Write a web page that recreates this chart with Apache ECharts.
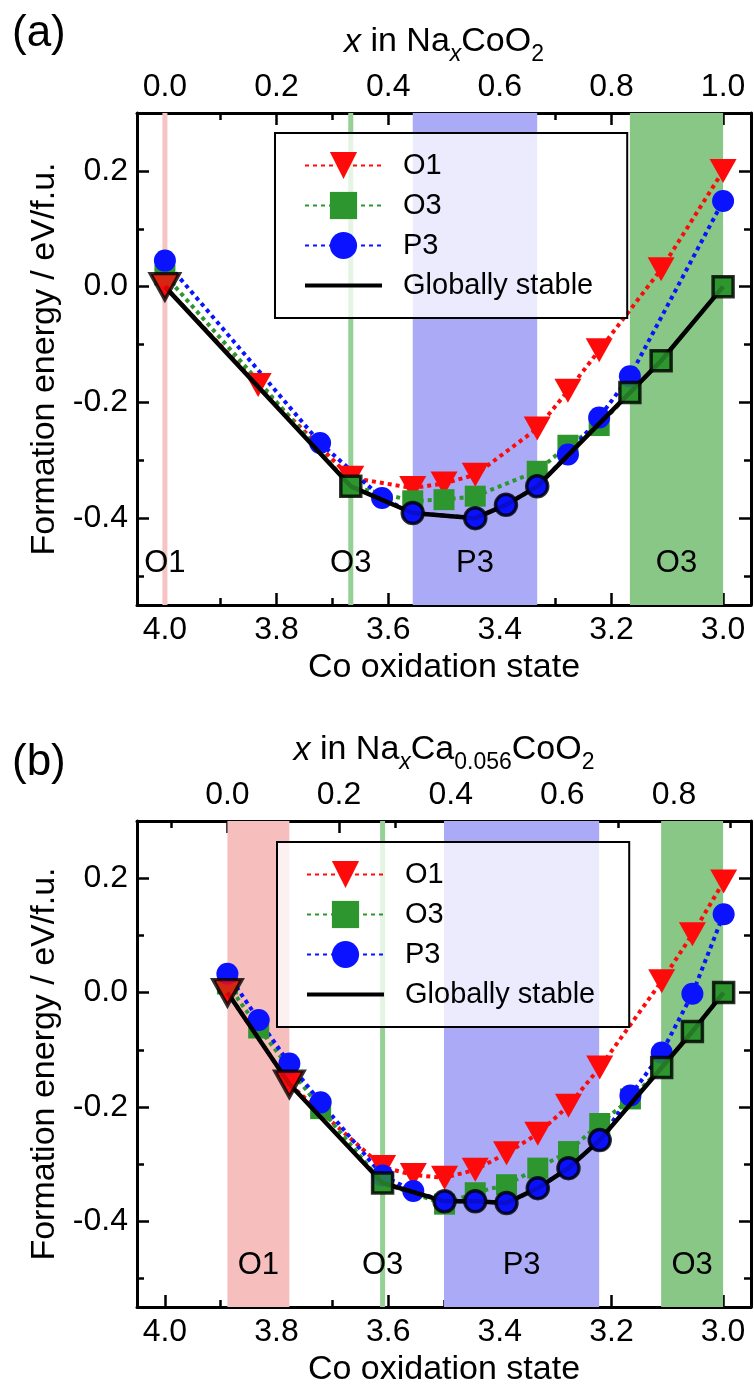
<!DOCTYPE html>
<html>
<head>
<meta charset="utf-8">
<script src="https://cdn.jsdelivr.net/npm/echarts@6/dist/echarts.min.js"></script>
<style>
  html, body { margin: 0; padding: 0; background: #fff; }
  #panelA { position: absolute; left: 0; top: 0; width: 754px; height: 707px; }
  #panelB { position: absolute; left: 0; top: 707px; width: 754px; height: 685px; }
</style>
</head>
<body>
<div id="panelA"></div>
<div id="panelB"></div>
<script>
// ---------- Panel (a): NaxCoO2 ----------
// Na content x (1/18 steps) and formation energies (eV/f.u.) per stacking
const naA    = [0.000, 0.167, 0.278, 0.333, 0.389, 0.444, 0.500, 0.556, 0.611, 0.667, 0.722, 0.778, 0.833, 0.889, 1.000];
const o1A    = [0.000, -0.170, null, -0.330, null, -0.348, -0.340, -0.325, null, -0.245, -0.180, -0.110, null, 0.030, 0.200];
const o3A    = [0.020, null, null, -0.345, null, -0.370, -0.368, -0.362, null, -0.319, -0.274, -0.240, -0.183, -0.128, 0.000];
const p3A    = [0.045, null, -0.270, null, -0.365, -0.391, null, -0.400, -0.377, -0.345, -0.290, -0.226, -0.155, null, 0.148];
// stacking that is globally stable at each composition (null = not on the hull)
const stableA = ['O1', null, null, 'O3', null, 'P3', null, 'P3', 'P3', 'P3', null, null, 'O3', 'O3', 'O3'];
// stable-phase regions, in Co oxidation state [name, from, to]
const bandsA = [['O1', 4.000, 4.000], ['O3', 3.667, 3.667], ['P3', 3.556, 3.333], ['O3', 3.167, 3.000]];

// ---------- Panel (b): NaxCa0.056CoO2 ----------
const naB    = [0.000, 0.056, 0.111, 0.167, 0.278, 0.333, 0.389, 0.444, 0.500, 0.556, 0.611, 0.667, 0.722, 0.778, 0.833, 0.889];
const o1B    = [0.000, null, -0.160, null, -0.305, -0.319, -0.324, -0.310, -0.281, -0.247, -0.198, -0.131, null, 0.020, 0.102, 0.194];
const o3B    = [0.015, -0.062, null, -0.203, -0.333, null, -0.370, -0.350, -0.336, -0.307, -0.278, -0.229, -0.186, -0.131, -0.068, 0.000];
const p3B    = [0.033, -0.048, -0.124, -0.192, -0.320, -0.347, -0.365, -0.365, -0.368, -0.342, -0.307, -0.258, -0.180, -0.105, -0.002, 0.137];
const stableB = ['O1', null, 'O1', null, 'O3', null, 'P3', 'P3', 'P3', 'P3', 'P3', 'P3', null, 'O3', 'O3', 'O3'];
const bandsB = [['O1', 3.888, 3.777], ['O3', 3.610, 3.610], ['P3', 3.500, 3.222], ['O3', 3.111, 3.000]];

// Co oxidation state = 4 - x - 2*[Ca]
const caA = 0.000;
const caB = 0.056;

// ---------- Tick values ----------
const oxMajor  = [3.0, 3.2, 3.4, 3.6, 3.8, 4.0];
const oxMinor  = [3.1, 3.3, 3.5, 3.7, 3.9];
const naMajorA = [0.0, 0.2, 0.4, 0.6, 0.8, 1.0];
const naMinorA = [0.1, 0.3, 0.5, 0.7, 0.9];
const naMajorB = [0.0, 0.2, 0.4, 0.6, 0.8];
const naMinorB = [-0.1, 0.1, 0.3, 0.5, 0.7, 0.9];
const eMajor   = [-0.4, -0.2, 0.0, 0.2];
const eMinor   = [-0.5, -0.3, -0.1, 0.1];
const oxRange  = [2.95, 4.05];
const eRange   = [-0.55, 0.30];
const bandLabelLevel = -0.478;
const narrowHalfWidth = 0.0045;   // single-composition phases drawn as a thin stripe

// ---------- Styling ----------
const FONT = '"Liberation Sans", Arial, Helvetica, sans-serif';
const PHASE = {
  O1: { color: '#ff0a0a', symbol: 'triangle', rotate: 180, size: [27, 24], hull: [29, 26] },
  O3: { color: '#2e962e', symbol: 'rect',     rotate: 0,   size: 21,       hull: 20 },
  P3: { color: '#0a12ff', symbol: 'circle',   rotate: 0,   size: 22,       hull: 21 }
};
const BAND_COLOR = { O1: '#f7bebe', O3: '#88c786', P3: '#aaaaf6' };
const NARROW_COLOR = { O1: '#f6c4c4', O3: '#95d095', P3: '#aaaaf6' };

function tickAxis(extra) {
  return Object.assign({
    type: 'value',
    splitLine: { show: false },
    axisLine: { show: false, onZero: false },
    axisLabel: { show: false },
    axisTick: { show: false }
  }, extra);
}

function buildPanel(el, cfg) {
  const chart = echarts.init(el, null, { renderer: 'canvas' });
  const oxBase = 4 - 2 * cfg.ca;
  const ox = cfg.na.map(x => +(oxBase - x).toFixed(4));
  const vals = { O1: cfg.o1, O3: cfg.o3, P3: cfg.p3 };
  const pairs = arr => arr.map((v, i) => (v == null ? null : [ox[i], v])).filter(Boolean);

  const hullPts = cfg.stable
    .map((ph, i) => (ph ? { ph, value: [ox[i], vals[ph][i]] } : null))
    .filter(Boolean);

  const regionAreas = cfg.bands.map(b => {
    const narrow = b[1] === b[2];
    const lo = narrow ? b[1] - narrowHalfWidth : b[1];
    const hi = narrow ? b[2] + narrowHalfWidth : b[2];
    return [{ xAxis: lo, itemStyle: { color: (narrow ? NARROW_COLOR : BAND_COLOR)[b[0]], opacity: 1 } }, { xAxis: hi }];
  });

  const tickLine = { color: '#000', width: 2.5 };
  const labelFont = { fontFamily: FONT, fontSize: 32, color: '#000' };
  const fmt = v => (Math.abs(v) < 1e-9 ? 0 : v).toFixed(1);

  const naMin = oxBase - oxRange[1];
  const naMax = oxBase - oxRange[0];

  const dotted = ph => ({
    name: ph,
    type: 'line',
    data: pairs(vals[ph]),
    xAxisIndex: 0, yAxisIndex: 0,
    symbol: PHASE[ph].symbol,
    symbolSize: PHASE[ph].size,
    symbolRotate: PHASE[ph].rotate,
    showSymbol: true,
    lineStyle: { color: PHASE[ph].color, width: 4, type: [4, 4] },
    itemStyle: { color: PHASE[ph].color, borderWidth: 0 },
    emphasis: { disabled: true },
    z: 3
  });

  const subRich = {
    n:  { fontFamily: FONT, fontSize: 34, color: '#000', lineHeight: 35, verticalAlign: 'top' },
    i:  { fontFamily: FONT, fontSize: 34, color: '#000', lineHeight: 35, verticalAlign: 'top', fontStyle: 'italic' },
    s:  { fontFamily: FONT, fontSize: 23, color: '#000', lineHeight: 23, verticalAlign: 'top', padding: [18, 0, 0, 0] },
    si: { fontFamily: FONT, fontSize: 23, color: '#000', lineHeight: 23, verticalAlign: 'top', padding: [18, 0, 0, 0], fontStyle: 'italic' }
  };

  const option = {
    animation: false,
    backgroundColor: '#fff',
    textStyle: { fontFamily: FONT },
    grid: { left: 137, right: 3, top: cfg.gridTop, bottom: cfg.gridBottom, containLabel: false },
    graphic: [{
      type: 'text', left: 12, top: cfg.letterTop,
      style: { text: cfg.letter, font: '44px ' + FONT, fill: '#000' }
    }],
    legend: {
      orient: 'vertical',
      left: cfg.legendLeft, top: cfg.legendTop,
      data: ['O1', 'O3', 'P3',
        { name: 'Globally stable',
          itemStyle: { color: 'rgba(0,0,0,0)', borderColor: 'rgba(0,0,0,0)', borderWidth: 0 },
          lineStyle: { color: '#000', width: 4, type: 'solid' } }],
      itemWidth: 77, itemHeight: 34, itemGap: 11,
      padding: [18, 34, 18, 28],
      backgroundColor: 'rgba(255,255,255,0.76)',
      borderColor: '#000', borderWidth: 2, borderRadius: 0,
      textStyle: { fontFamily: FONT, fontSize: 29, color: '#000', padding: [0, 0, 0, 16] },
      selectedMode: false,
      z: 10
    },
    xAxis: [
      tickAxis({ // bottom: Co oxidation state, labelled ticks
        position: 'bottom', min: oxRange[0], max: oxRange[1], inverse: true,
        name: 'Co oxidation state', nameLocation: 'middle', nameGap: 42,
        nameTextStyle: { fontFamily: FONT, fontSize: 34, color: '#000' },
        axisLine: { show: true, onZero: false, lineStyle: { color: '#000', width: 3 } },
        axisTick: { show: true, inside: true, length: 12, lineStyle: tickLine, customValues: oxMajor },
        axisLabel: Object.assign({ show: true, margin: 9, customValues: oxMajor, formatter: fmt }, labelFont)
      }),
      tickAxis({ // bottom minor ticks
        position: 'bottom', min: oxRange[0], max: oxRange[1], inverse: true,
        axisTick: { show: true, inside: true, length: 7, lineStyle: tickLine, customValues: oxMinor }
      }),
      tickAxis({ // top: Na content x
        position: 'top', min: naMin, max: naMax,
        name: cfg.topName, nameLocation: 'middle', nameGap: 30,
        nameTextStyle: { rich: subRich },
        axisLine: { show: true, onZero: false, lineStyle: { color: '#000', width: 3 } },
        axisTick: { show: true, inside: true, length: 12, lineStyle: tickLine, customValues: cfg.naMajor },
        axisLabel: Object.assign({ show: true, margin: 10, customValues: cfg.naMajor, formatter: fmt }, labelFont)
      }),
      tickAxis({ // top minor ticks
        position: 'top', min: naMin, max: naMax,
        axisTick: { show: true, inside: true, length: 7, lineStyle: tickLine, customValues: cfg.naMinor }
      })
    ],
    yAxis: [
      tickAxis({
        position: 'left', min: eRange[0], max: eRange[1],
        name: 'Formation energy / eV/f.u.', nameLocation: 'middle', nameGap: 67,
        nameTextStyle: { fontFamily: FONT, fontSize: 34, color: '#000' },
        axisLine: { show: true, onZero: false, lineStyle: { color: '#000', width: 3 } },
        axisTick: { show: true, inside: true, length: 12, lineStyle: tickLine, customValues: eMajor },
        axisLabel: Object.assign({ show: true, margin: 9, customValues: eMajor, formatter: fmt }, labelFont)
      }),
      tickAxis({
        position: 'left', min: eRange[0], max: eRange[1],
        axisTick: { show: true, inside: true, length: 7, lineStyle: tickLine, customValues: eMinor }
      }),
      tickAxis({
        position: 'right', min: eRange[0], max: eRange[1],
        axisLine: { show: true, onZero: false, lineStyle: { color: '#000', width: 3 } },
        axisTick: { show: true, inside: true, length: 12, lineStyle: tickLine, customValues: eMajor }
      }),
      tickAxis({
        position: 'right', min: eRange[0], max: eRange[1],
        axisTick: { show: true, inside: true, length: 7, lineStyle: tickLine, customValues: eMinor }
      })
    ],
    series: [
      { // phase regions
        name: 'regions', type: 'line', data: [], xAxisIndex: 0, yAxisIndex: 0, silent: true, z: 1,
        markArea: {
          silent: true,
          emphasis: { disabled: true },
          data: regionAreas
        }
      },
      dotted('O1'),
      dotted('O3'),
      dotted('P3'),
      {
        name: 'Globally stable', type: 'line', xAxisIndex: 0, yAxisIndex: 0,
        data: hullPts.map(p => p.value),
        symbol: 'none', showSymbol: false,
        lineStyle: { color: '#000', width: 4.5, type: 'solid' },
        itemStyle: { color: '#000' },
        emphasis: { disabled: true },
        z: 4
      },
      {
        name: 'hull points', type: 'scatter', xAxisIndex: 0, yAxisIndex: 0, z: 5,
        emphasis: { disabled: true },
        data: hullPts.map(p => ({
          value: p.value,
          symbol: PHASE[p.ph].symbol,
          symbolSize: PHASE[p.ph].hull,
          symbolRotate: PHASE[p.ph].rotate,
          itemStyle: { color: PHASE[p.ph].color, borderColor: '#000', borderWidth: 3.5 }
        }))
      },
      { // region names
        name: 'region labels', type: 'scatter', xAxisIndex: 0, yAxisIndex: 0, silent: true, z: 6,
        symbolSize: 1, itemStyle: { color: 'rgba(0,0,0,0)' },
        data: cfg.bands.map(b => ({ name: b[0], value: [(b[1] + b[2]) / 2, bandLabelLevel] })),
        label: { show: true, position: 'inside', formatter: p => p.name,
                 fontFamily: FONT, fontSize: 31, color: '#000', opacity: 1 }
      }
    ]
  };
  chart.setOption(option);
  return chart;
}

buildPanel(document.getElementById('panelA'), {
  na: naA, o1: o1A, o3: o3A, p3: p3A, stable: stableA, bands: bandsA, ca: caA,
  naMajor: naMajorA, naMinor: naMinorA,
  topName: '{i|x}{n| in Na}{si|x}{n|CoO}{s|2}',
  letter: '(a)', letterTop: 12,
  gridTop: 113, gridBottom: 102,
  legendLeft: 275, legendTop: 133
});

buildPanel(document.getElementById('panelB'), {
  na: naB, o1: o1B, o3: o3B, p3: p3B, stable: stableB, bands: bandsB, ca: caB,
  naMajor: naMajorB, naMinor: naMinorB,
  topName: '{i|x}{n| in Na}{si|x}{n|Ca}{s|0.056}{n|CoO}{s|2}',
  letter: '(b)', letterTop: 34,
  gridTop: 114, gridBottom: 79,
  legendLeft: 277, legendTop: 135
});
</script>
</body>
</html>
